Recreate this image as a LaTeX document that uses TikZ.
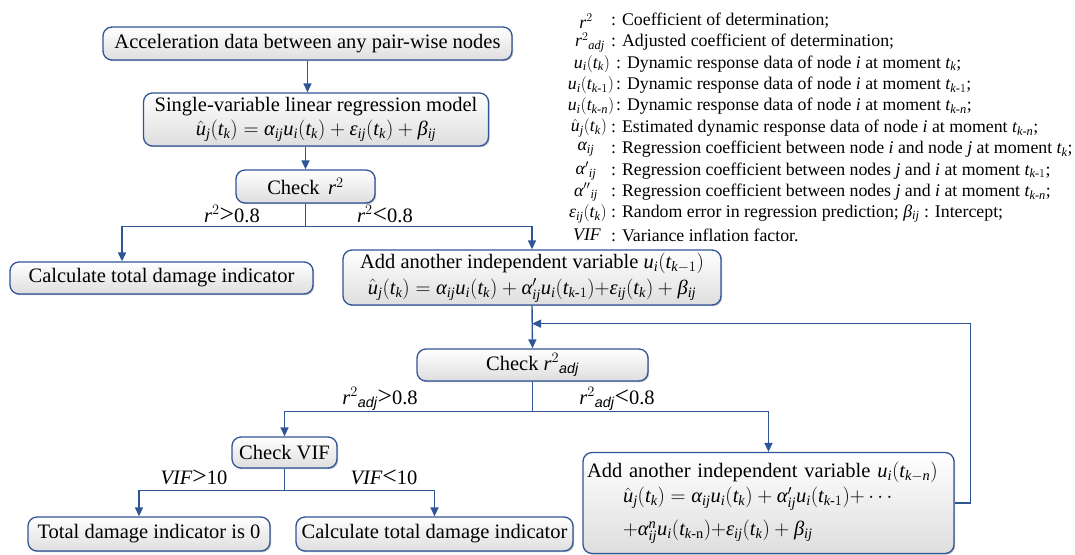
\documentclass[tikz,border=0pt]{standalone}
\usepackage{amsmath}
\usepackage{fontspec}
\setmainfont{Liberation Serif}
\newfontfamily\sansf{Liberation Sans}
\newfontfamily\lsffam[NFSSFamily=lsf]{Liberation Serif}
\DeclareSymbolFont{lsfit}{TU}{lsf}{m}{it}
\DeclareSymbolFont{lsfup}{TU}{lsf}{m}{n}
\newcount\mcnt
\mcnt=97
\loop \Umathcode\mcnt="7 \symlsfit \mcnt \advance\mcnt by 1 \ifnum\mcnt<123 \repeat
\mcnt=65
\loop \Umathcode\mcnt="7 \symlsfit \mcnt \advance\mcnt by 1 \ifnum\mcnt<91 \repeat
\mcnt=48
\loop \Umathcode\mcnt="7 \symlsfup \mcnt \advance\mcnt by 1 \ifnum\mcnt<58 \repeat
\Umathcode`(="4 \symlsfup `(
\Umathcode`)="5 \symlsfup `)
\Umathcode`+="2 \symlsfup `+
\Umathcode`=="3 \symlsfup `=
\Umathcode`<="3 \symlsfup `<
\Umathcode`>="3 \symlsfup `>
\Umathcode`.="0 \symlsfup `.
\Umathchardef\alpha="0 \symlsfit "03B1
\Umathchardef\beta="0 \symlsfit "03B2
\Umathchardef\varepsilon="0 \symlsfit "03B5
\usetikzlibrary{arrows.meta,shadows,calc}
\definecolor{lineblue}{RGB}{47,85,151}
\tikzset{
  box/.style={draw=lineblue, line width=1.3pt, rounded corners=9pt,
    top color=white, bottom color=black!13, inner sep=2pt, align=center,
    font=\fontsize{20.5}{24}\selectfont,
    drop shadow={shadow xshift=1.2pt,shadow yshift=-1.2pt,opacity=0.25,fill=black}},
  conn/.style={draw=lineblue, line width=1.4pt},
  arr/.style={conn, -{Triangle[length=9pt,width=8pt]}},
  lbl/.style={inner sep=0pt, font=\fontsize{20.5}{24}\selectfont},
  sym/.style={inner sep=0pt, font=\fontsize{17.8}{20}\selectfont},
  desc/.style={inner sep=0pt, anchor=west, font=\fontsize{17.8}{20}\selectfont},
}
\newcommand{\adjs}{\text{\sansf\itshape adj}}
\newcommand{\gtr}{\mathrel{\scalebox{1.25}{$>$}}}
\newcommand{\lss}{\mathrel{\scalebox{1.25}{$<$}}}
\begin{document}
\begin{tikzpicture}[x=1pt,y=-1pt]
\useasboundingbox (0,0) rectangle (1075,554);

% boxes
\node[box, minimum width=409pt, minimum height=33pt] (n1) at (307.5,43.5)
  {Acceleration data between any pair-wise nodes};
\node[box, minimum width=345pt, minimum height=53pt] (n2) at (316,119.5)
  {Single-variable linear regression model\\
   $\hat{u}_j(t_k)=\alpha_{ij}u_i(t_k)+\varepsilon_{ij}(t_k)+\beta_{ij}$};
\node[box, minimum width=139pt, minimum height=33pt] (n3) at (305.5,186.5)
  {Check\, $r^2$};
\node[box, minimum width=303pt, minimum height=32pt] (n4) at (161.5,278)
  {Calculate total damage indicator};
\node[box, minimum width=378pt, minimum height=55pt] (n5) at (532,277.5)
  {Add another independent variable $u_i(t_{k-1})$\\[2pt]
   $\hat{u}_j(t_k)=\alpha_{ij}u_i(t_k)+\alpha_{ij}^{\prime}u_i(t_{k\text{-}1}){+}\varepsilon_{ij}(t_k)+\beta_{ij}$};
\node[box, minimum width=231pt, minimum height=32pt] (n6) at (532.5,365)
  {Check $r^{2}{}_{\adjs}$};
\node[box, minimum width=105pt, minimum height=31pt] (n7) at (284.5,452.5)
  {Check VIF};
\node[box, minimum width=242pt, minimum height=34pt] (n8) at (149,534)
  {Total damage indicator is 0};
\node[box, minimum width=277pt, minimum height=34pt] (n9) at (434.5,534)
  {Calculate total damage indicator};
\node[box, minimum width=371pt, minimum height=101pt, text width=363pt, inner xsep=4pt, align=left] (n10) at (768.5,503)
  {Add another independent variable $u_i(t_{k-n})$\\[1pt]
   \hspace*{36pt}$\hat{u}_j(t_k)=\alpha_{ij}u_i(t_k)+\alpha_{ij}^{\prime}u_i(t_{k\text{-}1}){+}\cdots$\\[9pt]
   \hspace*{36pt}$+\alpha_{ij}^{n}u_i(t_{k\text{-n}}){+}\varepsilon_{ij}(t_k)+\beta_{ij}$};

% connectors
\draw[arr] (n1.south) -- (n1.south |- n2.north);
\draw[arr] (n3.north |- n2.south) -- (n3.north);
\draw[conn] (n3.south) -- ++(0,23) coordinate (j1);
\draw[arr] (j1) -| ([xshift=-39.5pt]n4.north);
\draw[arr] (j1) -| (n5.north);
\draw[arr] (n5.south) -- (n6.north);
\draw[conn] (n6.south) -- ++(0,30) coordinate (j2);
\draw[arr] (j2) -| (n7.north);
\draw[arr] (j2) -| (n10.north);
\draw[conn] (n7.south) -- ++(0,22) coordinate (j3);
\draw[arr] (j3) -| ([xshift=-10pt]n8.north);
\draw[arr] (j3) -| (n9.north);
\draw[arr] (n10.east) -- ++(16,0) |- ([yshift=-18pt]n5.south);

% branch labels
\node[lbl] (l1) at (232,214) {$r^2{\gtr}$0.8};
\node[lbl] (l2) at (385,214) {$r^2{\lss}$0.8};
\node[lbl] (l3) at (380,399) {$r^{2}{}_{\adjs}{\gtr}$0.8};
\node[lbl] (l4) at (617,399) {$r^{2}{}_{\adjs}{\lss}$0.8};
\node[lbl] (l5) at (194,477) {$VIF{\gtr}$10};
\node[lbl] (l6) at (384,477) {$VIF{\lss}$10};

% legend
\node[sym] (s0) at (586,21) {$r^2$};
\node[desc] (d0) at (611,21) {: Coefficient of determination;};
\node[sym] (s1) at (590,42.4) {$r^{2}{}_{adj}$};
\node[desc] (d1) at (611,42.4) {: Adjusted coefficient of determination;};
\node[sym] (s2) at (592,63.8) {$u_i(t_k)$};
\node[desc] (d2) at (616,63.8) {: Dynamic response data of node \textit{i} at moment $t_k$;};
\node[sym] (s3) at (591,85.2) {$u_i(t_{k\text{-}1})$};
\node[desc] (d3) at (616,85.2) {: Dynamic response data of node \textit{i} at moment $t_{k\text{-}1}$;};
\node[sym] (s4) at (591,106.6) {$u_i(t_{k\text{-}n})$};
\node[desc] (d4) at (616,106.6) {: Dynamic response data of node \textit{i} at moment $t_{k\text{-}n}$;};
\node[sym] (s5) at (589,128) {$\hat{u}_j(t_k)$};
\node[desc] (d5) at (611,128) {: Estimated dynamic response data of node \textit{i} at moment $t_{k\text{-}n}$;};
\node[sym] (s6) at (586,149.4) {$\alpha_{ij}$};
\node[desc] (d6) at (611,149.4) {: Regression coefficient between node \textit{i} and node \textit{j} at moment $t_k$;};
\node[sym] (s7) at (586,170.8) {$\alpha^{\prime}{}_{ij}$};
\node[desc] (d7) at (611,170.8) {: Regression coefficient between nodes \textit{j} and \textit{i} at moment $t_{k\text{-}1}$;};
\node[sym] (s8) at (586,192.2) {$\alpha^{\prime\prime}{}_{ij}$};
\node[desc] (d8) at (611,192.2) {: Regression coefficient between nodes \textit{j} and \textit{i} at moment $t_{k\text{-}n}$;};
\node[sym] (s9) at (588,213.6) {$\varepsilon_{ij}(t_k)$};
\node[desc] (d9) at (611,213.6) {: Random error in regression prediction; $\beta_{ij}$ : Intercept;};
\node[sym] (s10) at (587,235) {$VIF$};
\node[desc] (d10) at (611,235) {: Variance inflation factor.};
\end{tikzpicture}
\end{document}
